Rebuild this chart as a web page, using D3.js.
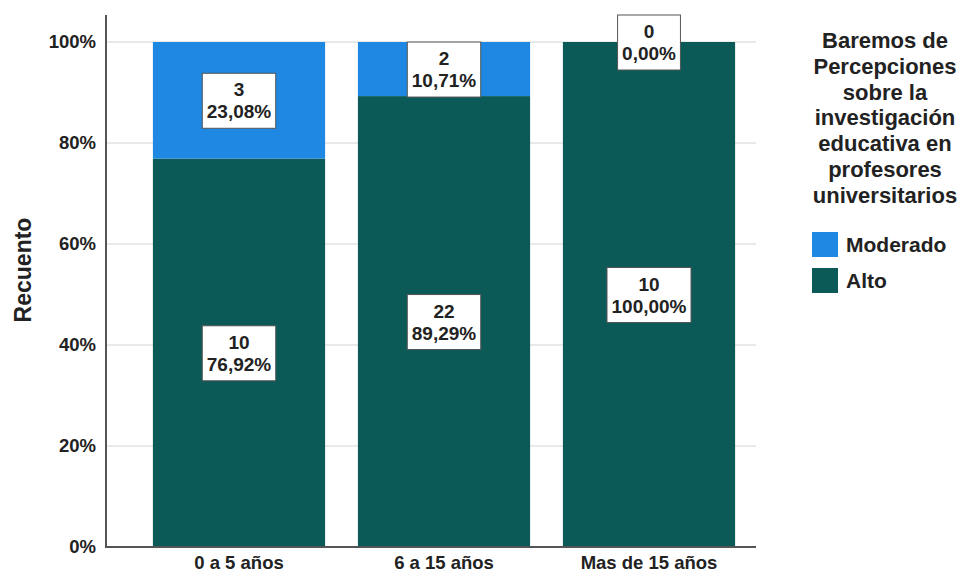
<!DOCTYPE html>
<html>
<head>
<meta charset="utf-8">
<script src="https://cdn.jsdelivr.net/npm/d3@7"></script>
<style>
  body { margin: 0; background: #fff; }
  text { font-family: 'Liberation Sans', Arial, sans-serif; font-weight: bold; fill: #222; }
</style>
</head>
<body>
<div id="chart"></div>
<script>
var width = 963;
var height = 577;

// data
var categories = ['0 a 5 años', '6 a 15 años', 'Mas de 15 años'];
var seriesNames = ['Alto', 'Moderado'];
var altoCounts = [10, 22, 10];
var moderadoCounts = [3, 2, 0];
var altoPct = [76.92, 89.29, 100.00];
var moderadoPct = [23.08, 10.71, 0.00];
var yTicks = [0, 0.2, 0.4, 0.6, 0.8, 1];
var legendTitle = ['Baremos de', 'Percepciones', 'sobre la', 'investigación', 'educativa en', 'profesores', 'universitarios'];
var colors = { 'Moderado': '#1e88e2', 'Alto': '#0b5a57' };

var fmtPct = function(v) { return v.toFixed(2).replace('.', ',') + '%'; };

var svg = d3.select('#chart').append('svg')
  .attr('width', width)
  .attr('height', height);

var x = d3.scaleBand()
  .domain(categories)
  .range([136.5, 751.5])
  .paddingInner(0.16)
  .paddingOuter(0.08);

var y = d3.scaleLinear()
  .domain([0, 1])
  .range([547, 42]);

// gridlines
svg.append('g')
  .selectAll('line')
  .data(yTicks)
  .enter().append('line')
  .attr('x1', 106)
  .attr('x2', 756)
  .attr('y1', function(d) { return y(d); })
  .attr('y2', function(d) { return y(d); })
  .attr('stroke', '#d4d4d4')
  .attr('stroke-width', 1);

// stacked segments
var rows = categories.map(function(c, i) {
  return { cat: c, Alto: altoPct[i] / 100, Moderado: moderadoPct[i] / 100, i: i };
});
var stack = d3.stack().keys(seriesNames);
var layers = stack(rows);

svg.append('g')
  .selectAll('g')
  .data(layers)
  .enter().append('g')
  .attr('fill', function(d) { return colors[d.key]; })
  .selectAll('rect')
  .data(function(d) { return d; })
  .enter().append('rect')
  .attr('x', function(d) { return x(d.data.cat); })
  .attr('width', x.bandwidth())
  .attr('y', function(d) { return y(d[1]); })
  .attr('height', function(d) { return y(d[0]) - y(d[1]); });

// axes
var yAxis = d3.axisLeft(y)
  .tickValues(yTicks)
  .tickFormat(function(d) { return Math.round(d * 100) + '%'; })
  .tickSize(0)
  .tickPadding(10);

var gy = svg.append('g')
  .attr('transform', 'translate(106,0)')
  .call(yAxis);
gy.select('.domain').remove();
gy.selectAll('text')
  .style('font-size', '18.5px')
  .style('font-weight', 'bold')
  .attr('fill', '#222');

var xAxis = d3.axisBottom(x).tickSize(0).tickPadding(9);
var gx = svg.append('g')
  .attr('transform', 'translate(0,547)')
  .call(xAxis);
gx.select('.domain').remove();
gx.selectAll('text')
  .style('font-size', '18.5px')
  .style('font-weight', 'bold')
  .attr('fill', '#222');

svg.append('line')
  .attr('x1', 106).attr('x2', 106)
  .attr('y1', 15).attr('y2', 548)
  .attr('stroke', '#555').attr('stroke-width', 2);
svg.append('line')
  .attr('x1', 105).attr('x2', 756)
  .attr('y1', 547).attr('y2', 547)
  .attr('stroke', '#555').attr('stroke-width', 2);

svg.append('text')
  .attr('transform', 'translate(31,' + 270 + ') rotate(-90)')
  .attr('text-anchor', 'middle')
  .style('font-size', '23px')
  .text('Recuento');

// value labels
var labels = [];
layers.forEach(function(layer) {
  layer.forEach(function(d, i) {
    var isAlto = layer.key === 'Alto';
    labels.push({
      cx: x(d.data.cat) + x.bandwidth() / 2,
      cy: (y(d[0]) + y(d[1])) / 2,
      count: isAlto ? altoCounts[i] : moderadoCounts[i],
      pct: fmtPct(isAlto ? altoPct[i] : moderadoPct[i])
    });
  });
});

var lab = svg.append('g')
  .selectAll('g')
  .data(labels)
  .enter().append('g')
  .attr('transform', function(d) { return 'translate(' + d.cx + ',' + d.cy + ')'; });

lab.append('rect')
  .attr('fill', '#fff')
  .attr('stroke', '#555')
  .attr('stroke-width', 1);

lab.append('text')
  .attr('text-anchor', 'middle')
  .attr('y', -4)
  .style('font-size', '19px')
  .text(function(d) { return d.count; });

lab.append('text')
  .attr('class', 'pct')
  .attr('text-anchor', 'middle')
  .attr('y', 18)
  .style('font-size', '19px')
  .text(function(d) { return d.pct; });

lab.each(function() {
  var g = d3.select(this);
  var w = g.select('.pct').node().getComputedTextLength() + 9;
  g.select('rect')
    .attr('x', -w / 2)
    .attr('y', -27)
    .attr('width', w)
    .attr('height', 55);
});

// legend
var legend = svg.append('g');
legend.selectAll('text')
  .data(legendTitle)
  .enter().append('text')
  .attr('x', 885)
  .attr('y', function(d, i) { return 48 + i * 25.8; })
  .attr('text-anchor', 'middle')
  .style('font-size', '22px')
  .text(function(d) { return d; });

var legendItems = ['Moderado', 'Alto'];
var li = legend.selectAll('.item')
  .data(legendItems)
  .enter().append('g')
  .attr('class', 'item')
  .attr('transform', function(d, i) { return 'translate(812,' + (232 + i * 36) + ')'; });
li.append('rect')
  .attr('width', 26)
  .attr('height', 25)
  .attr('fill', function(d) { return colors[d]; });
li.append('text')
  .attr('x', 34)
  .attr('y', 20)
  .style('font-size', '21px')
  .text(function(d) { return d; });
</script>
</body>
</html>
